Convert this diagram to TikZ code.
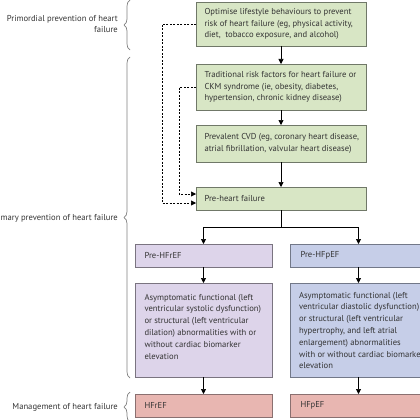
\documentclass[tikz,border=0pt]{standalone}
\usepackage{fontspec}
\setmainfont{PT Sans}
\usetikzlibrary{arrows.meta,decorations.pathreplacing}
\definecolor{gfill}{HTML}{D8E6C5}
\definecolor{gdraw}{HTML}{707868}
\definecolor{pfill}{HTML}{DDD4EA}
\definecolor{pdraw}{HTML}{7A7480}
\definecolor{bfill}{HTML}{C6CEE8}
\definecolor{bdraw}{HTML}{727888}
\definecolor{rfill}{HTML}{E8B6B1}
\definecolor{rdraw}{HTML}{8A7070}
\definecolor{txt}{HTML}{333333}
\definecolor{brc}{HTML}{808080}
\tikzset{
  box/.style={draw, line width=0.8pt, anchor=north west, inner sep=0pt, outer sep=0pt, text=txt,
    font=\fontsize{8.6}{11.8}\selectfont, align=left},
  gbox/.style={box, fill=gfill, draw=gdraw},
  pbox/.style={box, fill=pfill, draw=pdraw},
  bbox/.style={box, fill=bfill, draw=bdraw},
  rbox/.style={box, fill=rfill, draw=rdraw},
  arr/.style={-{Triangle[length=5pt,width=5pt]}, line width=0.7pt},
  darr/.style={-{Triangle[length=5pt,width=5pt]}, line width=0.6pt, dash pattern=on 2pt off 1.5pt},
  brace/.style={decorate, decoration={brace, amplitude=6pt}, draw=brc, line width=0.7pt},
  lab/.style={text=txt, font=\fontsize{8.6}{11.8}\selectfont, align=right, anchor=east, inner sep=0pt},
}
\newcommand{\bx}[3]{\parbox[c][#2][c]{#1}{#3}}
\newcommand{\bt}[4]{\parbox[c][#2][t]{#1}{\raggedright\rule{0pt}{#3}#4}}
\begin{document}
\begin{tikzpicture}[x=1pt,y=-1pt]
\useasboundingbox (0,0) rectangle (420,420);
\clip (0,0) rectangle (420,420);
% green boxes
\node[gbox, minimum width=170pt, minimum height=44pt] (b1) at (196,2)
  {\hspace*{7pt}\bx{160pt}{44pt}{Optimise lifestyle behaviours to prevent\\risk of heart failure (eg, physical activity,\\diet,\ \ tobacco exposure, and alcohol)}};
\node[gbox, minimum width=170pt, minimum height=46pt] (b2) at (196,64)
  {\hspace*{7pt}\bx{160pt}{46pt}{Traditional risk factors for heart failure or\\CKM syndrome (ie, obesity, diabetes,\\hypertension, chronic kidney disease)}};
\node[gbox, minimum width=170pt, minimum height=37pt] (b3) at (196,125)
  {\hspace*{7pt}\bx{160pt}{37pt}{Prevalent CVD (eg, coronary heart disease,\\atrial fibrillation, valvular heart disease)}};
\node[gbox, minimum width=170pt, minimum height=23pt] (b4) at (196,187)
  {\hspace*{7pt}\bx{160pt}{23pt}{Pre-heart failure}};
% purple / blue
\node[pbox, minimum width=137pt, minimum height=23pt] (p1) at (135,244)
  {\hspace*{8pt}\bx{126pt}{23pt}{Pre-HFrEF}};
\node[bbox, minimum width=137pt, minimum height=23pt] (q1) at (290,244)
  {\hspace*{9pt}\bx{125pt}{23pt}{Pre-HFpEF}};
\node[pbox, minimum width=137pt, minimum height=94pt] (p2) at (135,283)
  {\hspace*{8pt}\bt{126pt}{94pt}{17pt}{Asymptomatic functional (left\\ventricular systolic dysfunction)\\or structural (left ventricular\\dilation) abnormalities with or\\without cardiac biomarker\\elevation}};
\node[bbox, minimum width=137pt, minimum height=94pt] (q2) at (290,283)
  {\hspace*{9pt}\bt{128pt}{94pt}{15pt}{Asymptomatic functional (left\\ventricular diastolic dysfunction)\\or structural (left ventricular\\hypertrophy, and left atrial\\enlargement) abnormalities\\\mbox{with or without cardiac biomarker}\\elevation}};
\node[rbox, minimum width=137pt, minimum height=23pt] (p3) at (135,394)
  {\hspace*{8pt}\bx{126pt}{23pt}{HFrEF}};
\node[rbox, minimum width=137pt, minimum height=23pt] (q3) at (290,394)
  {\hspace*{9pt}\bx{125pt}{23pt}{HFpEF}};
% solid arrows
\draw[arr] (b1.south) -- (b2.north);
\draw[arr] (b2.south) -- (b3.north);
\draw[arr] (b3.south) -- (b4.north);
\coordinate (split) at (b4.south |- 0,227);
\draw[line width=0.7pt] (b4.south) -- (split);
\draw[arr] (split) -| (p1.north);
\draw[arr] (split) -| (q1.north);
\draw[arr] (p1.south) -- (p2.north);
\draw[arr] (q1.south) -- (q2.north);
\draw[arr] (p2.south) -- (p3.north);
\draw[arr] (q2.south) -- (q3.north);
% dashed arrows
\draw[darr] (b1.west |- 0,24) -- (162,24) |- (b4.west |- 0,203);
\draw[darr] (b2.west |- 0,87) -- (179,87) |- (b4.west |- 0,194);
% braces
\draw[brace] (130,50) -- (130,0);
\draw[brace] (130,378) -- (130,57);
\draw[brace] (130,422) -- (130,392);
\node[lab] (l1) at (118,24) {Primordial prevention of heart\\failure};
\node[lab] (l2) at (118,218) {Primary prevention of heart failure};
\node[lab] (l3) at (118,407) {Management of heart failure};
\end{tikzpicture}
\end{document}
